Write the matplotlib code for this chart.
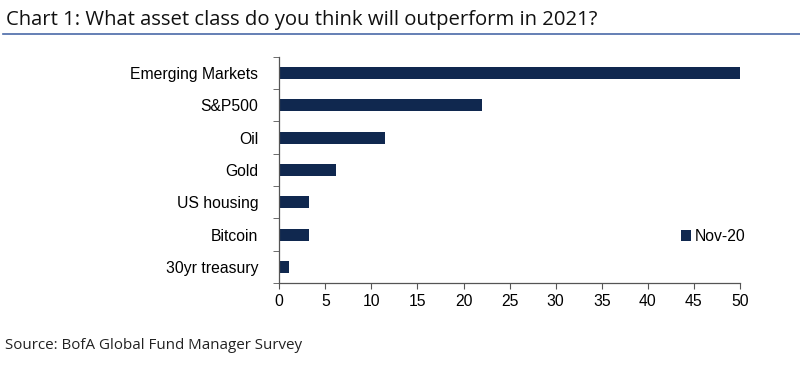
import matplotlib
matplotlib.use("Agg")
import matplotlib.pyplot as plt
import numpy as np

categories = ["Emerging Markets", "S&P500", "Oil", "Gold", "US housing", "Bitcoin", "30yr treasury"]
values = [50, 22, 11.5, 6.2, 3.2, 3.2, 1.1]
series_name = "Nov-20"
xticks = [0, 5, 10, 15, 20, 25, 30, 35, 40, 45, 50]

fig = plt.figure(figsize=(8, 3.69), dpi=100)
ax = fig.add_axes([0.349, 0.233, 0.576, 0.613])

n = len(categories)
ypos = np.arange(n)[::-1]
bars = ax.barh(ypos, values, height=0.37, color="#10284f", label=series_name)

ax.set_xlim(0, 50)
ax.set_ylim(-0.5, n - 0.5)
ax.set_xticks(xticks)
ax.set_xticklabels([str(t) for t in xticks], fontsize=11.3, family="Liberation Sans")
ax.set_yticks(ypos)
ax.set_yticklabels(categories, fontsize=11.3, family="Liberation Sans")
ax.tick_params(axis="y", length=0, pad=15)
ax.set_yticks(np.arange(-0.5, n, 1.0), minor=True)
ax.tick_params(axis="y", which="minor", length=4, color="#555555", direction="out")
ax.tick_params(axis="x", length=4, color="#555555", direction="out", pad=4)

for s in ["top", "right"]:
    ax.spines[s].set_visible(False)
for s in ["left", "bottom"]:
    ax.spines[s].set_color("#555555")
    ax.spines[s].set_linewidth(0.9)

leg = ax.legend(loc="lower right", bbox_to_anchor=(1.043, 0.11), frameon=False,
                prop={"family": "Liberation Sans", "size": 11.3},
                handlelength=0.65, handleheight=0.65, handletextpad=0.25)

fig.text(0.008, 0.945, "Chart 1: What asset class do you think will outperform in 2021?",
         fontsize=14.6, family="Open Sans", color="#111111", va="center")
fig.add_artist(plt.Line2D([0.004, 1.0], [0.908, 0.908], color="#4a6aa8", linewidth=1.2,
                          transform=fig.transFigure))
fig.text(0.006, 0.063, "Source: BofA Global Fund Manager Survey",
         fontsize=10.9, family="Open Sans", color="#222222", va="center")

fig.savefig("out.png", dpi=100)
